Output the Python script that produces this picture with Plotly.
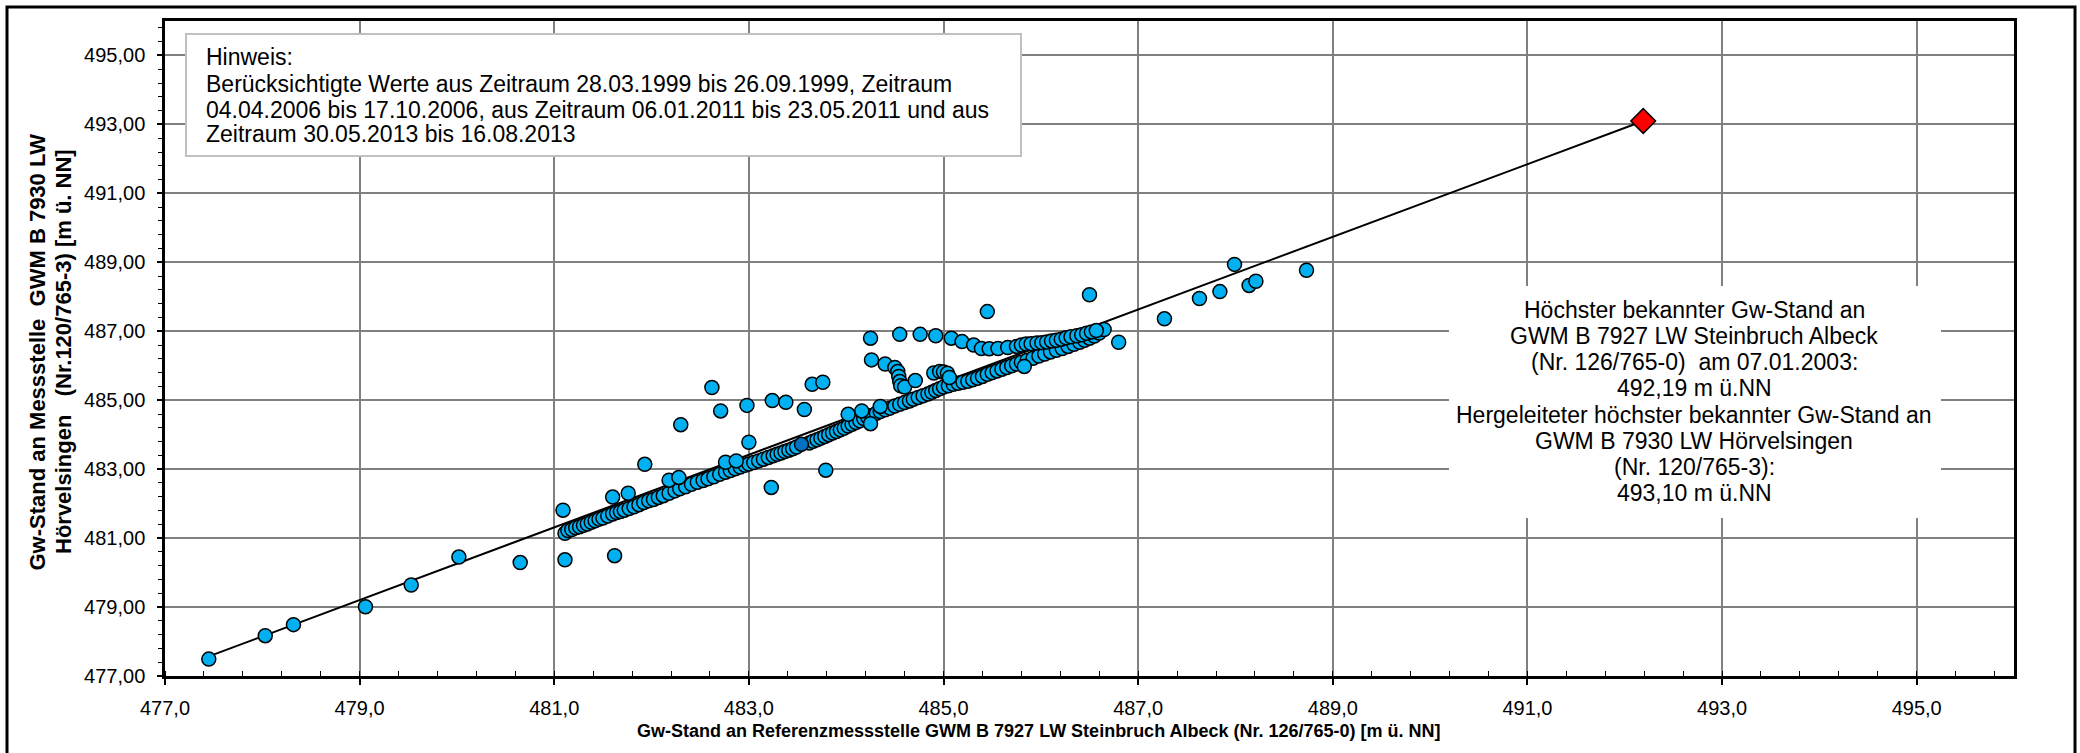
import plotly.graph_objects as go

# ---------------- data ----------------
# main dense band of measurements
band_x = [481.11, 481.14, 481.18, 481.22, 481.26, 481.30, 481.34, 481.38, 481.42, 481.46,
          481.50, 481.55, 481.60, 481.64, 481.68, 481.72, 481.77, 481.82, 481.87, 481.92,
          481.97, 482.02, 482.07, 482.12, 482.18, 482.24, 482.29, 482.35, 482.41, 482.47,
          482.53, 482.58, 482.64, 482.70, 482.76, 482.81, 482.86, 482.91, 482.96, 483.00,
          483.05, 483.10, 483.15, 483.20, 483.25, 483.29, 483.33, 483.37, 483.41, 483.45,
          483.49, 483.62, 483.66, 483.70, 483.74, 483.78, 483.82, 483.86, 483.90, 483.94,
          483.98, 484.02, 484.06, 484.10, 484.14, 484.18, 484.22, 484.26, 484.31, 484.35,
          484.40, 484.45, 484.50, 484.55, 484.60, 484.65, 484.69, 484.74, 484.79, 484.84,
          484.88, 484.92, 484.96, 485.00, 485.05, 485.10, 485.15, 485.20, 485.25, 485.30,
          485.35, 485.40, 485.45, 485.50, 485.55, 485.60, 485.65, 485.70, 485.75, 485.80,
          485.86, 485.92, 485.98, 486.04, 486.10, 486.16, 486.22, 486.28, 486.34, 486.40,
          486.45, 486.50, 486.55, 486.60, 486.65]
band_y = [481.14, 481.22, 481.25, 481.30, 481.33, 481.37, 481.41, 481.46, 481.50, 481.55,
          481.58, 481.64, 481.70, 481.74, 481.77, 481.81, 481.86, 481.91, 481.97, 482.03,
          482.08, 482.12, 482.18, 482.23, 482.30, 482.37, 482.43, 482.49, 482.56, 482.62,
          482.67, 482.72, 482.78, 482.85, 482.91, 482.96, 483.01, 483.06, 483.11, 483.15,
          483.19, 483.24, 483.29, 483.34, 483.39, 483.43, 483.47, 483.51, 483.55, 483.59,
          483.64, 483.76, 483.81, 483.85, 483.90, 483.95, 484.00, 484.05, 484.09, 484.14,
          484.19, 484.25, 484.30, 484.35, 484.40, 484.47, 484.51, 484.56, 484.62, 484.67,
          484.72, 484.77, 484.83, 484.88, 484.93, 484.98, 485.03, 485.08, 485.13, 485.18,
          485.23, 485.28, 485.33, 485.38, 485.42, 485.46, 485.49, 485.52, 485.55, 485.59,
          485.64, 485.69, 485.75, 485.80, 485.85, 485.90, 485.95, 486.00, 486.05, 486.10,
          486.16, 486.22, 486.28, 486.34, 486.40, 486.45, 486.50, 486.56, 486.62, 486.68,
          486.74, 486.80, 486.86, 486.95, 487.05]

# upper arc of measurements
arc_x = [484.55, 484.76, 484.92, 485.08, 485.19, 485.31, 485.39, 485.47, 485.56, 485.66,
         485.75, 485.80, 485.85, 485.90, 485.96, 486.01, 486.06, 486.11, 486.16, 486.21,
         486.26, 486.31, 486.37, 486.42, 486.47, 486.52, 486.57]
arc_y = [486.91, 486.91, 486.87, 486.80, 486.70, 486.60, 486.50, 486.49, 486.50, 486.53,
         486.56, 486.60, 486.63, 486.64, 486.66, 486.67, 486.69, 486.72, 486.74, 486.77,
         486.81, 486.84, 486.87, 486.90, 486.94, 486.98, 487.02]

# curl and cluster near 484.5 / 485.0
curl_x = [484.25, 484.26, 484.40, 484.50, 484.53, 484.54, 484.55, 484.56, 484.60, 484.71,
          484.90, 484.96, 485.00, 485.04, 485.06]
curl_y = [486.80, 486.17, 486.05, 485.95, 485.83, 485.69, 485.54, 485.42, 485.38, 485.57,
          485.79, 485.83, 485.82, 485.78, 485.66]

# isolated measurements
iso_x = [477.45, 478.03, 478.32, 479.06, 479.53, 480.02, 480.65, 481.11, 481.62, 481.09,
         481.60, 481.76, 481.93, 482.18, 482.28, 482.30, 482.62, 482.71, 482.76, 482.87,
         482.98, 483.00, 483.23, 483.24, 483.38, 483.57, 483.65, 483.76, 483.79, 484.02,
         484.16, 484.25, 484.35, 485.45, 485.83, 486.50, 486.80, 487.27, 487.63, 487.84,
         487.99, 488.14, 488.21, 488.73]
iso_y = [477.49, 478.17, 478.49, 479.01, 479.64, 480.45, 480.29, 480.37, 480.49, 481.81,
         482.19, 482.30, 483.14, 482.68, 482.76, 484.29, 485.37, 484.69, 483.20, 483.24,
         484.85, 483.78, 482.47, 484.99, 484.94, 484.73, 485.46, 485.52, 482.97, 484.59,
         484.69, 484.32, 484.82, 487.57, 485.98, 488.06, 486.68, 487.36, 487.95, 488.15,
         488.94, 488.33, 488.45, 488.77]

# highlighted (darker) measurement
dark_x = [483.54]
dark_y = [483.72]

# regression line end points and highest known level
line_x = [477.45, 492.19]
line_y = [477.57, 493.10]
max_x = [492.19]
max_y = [493.10]

x_ticks = [477, 479, 481, 483, 485, 487, 489, 491, 493, 495]
y_ticks = [477, 479, 481, 483, 485, 487, 489, 491, 493, 495]

hinweis_lines = [
    "Hinweis:",
    "Berücksichtigte Werte aus Zeitraum 28.03.1999 bis 26.09.1999, Zeitraum",
    "04.04.2006 bis 17.10.2006, aus Zeitraum 06.01.2011 bis 23.05.2011 und aus",
    "Zeitraum 30.05.2013 bis 16.08.2013",
]
info_lines = [
    "Höchster bekannter Gw-Stand an",
    "GWM B 7927 LW Steinbruch Albeck",
    "(Nr. 126/765-0)  am 07.01.2003:",
    "492,19 m ü.NN",
    "Hergeleiteter höchster bekannter Gw-Stand an",
    "GWM B 7930 LW Hörvelsingen",
    "(Nr. 120/765-3):",
    "493,10 m ü.NN",
]
x_title = "Gw-Stand an Referenzmessstelle GWM B 7927 LW Steinbruch Albeck (Nr. 126/765-0) [m ü. NN]"
y_title_lines = ["Gw-Stand an Messstelle  GWM B 7930 LW",
                 "Hörvelsingen   (Nr.120/765-3) [m ü. NN]"]

# ---------------- layout geometry ----------------
W, H = 2080, 753
L, R, T, B = 165, 66, 21, 77
PW, PH = W - L - R, H - T - B
FONT = "Liberation Sans, Arial, sans-serif"


def px(x):
    return (x - L) / PW


def py(y):
    return (H - B - y) / PH


all_x = band_x + arc_x + curl_x + iso_x
all_y = band_y + arc_y + curl_y + iso_y

fig = go.Figure()
fig.add_trace(go.Scatter(x=line_x, y=line_y, mode="lines",
                         line=dict(color="black", width=2), hoverinfo="skip"))
fig.add_trace(go.Scatter(x=all_x, y=all_y, mode="markers",
                         marker=dict(size=14, color="#00b0f0",
                                     line=dict(color="black", width=1.5))))
fig.add_trace(go.Scatter(x=dark_x, y=dark_y, mode="markers",
                         marker=dict(size=14, color="#0070c0",
                                     line=dict(color="black", width=1.5))))
fig.add_trace(go.Scatter(x=max_x, y=max_y, mode="markers",
                         marker=dict(size=19, symbol="diamond", color="#ff0000",
                                     line=dict(color="black", width=1.5))))

axis_common = dict(
    showgrid=True, gridcolor="#808080", gridwidth=1.5,
    zeroline=False, showline=True, linecolor="black", linewidth=2.5, mirror=True,
    tickfont=dict(family=FONT, size=20, color="black"),
    tickcolor="black",
)
fig.update_xaxes(range=[477, 496], tickmode="array", tickvals=x_ticks, tickformat=".1f",
                 ticks="outside", ticklen=6, tickwidth=1.5,
                 minor=dict(dtick=0.4, tick0=477, ticks="inside", ticklen=5,
                            tickcolor="black", tickwidth=1.2, showgrid=False),
                 ticklabelstandoff=6, **axis_common)
fig.update_yaxes(range=[477, 496], tickmode="array", tickvals=y_ticks, tickformat=".2f",
                 ticks="outside", ticklen=5, tickwidth=1.5,
                 minor=dict(dtick=0.4, tick0=477, ticks="outside", ticklen=4,
                            tickcolor="black", tickwidth=1.2, showgrid=False),
                 ticklabelstandoff=8, **axis_common)

shapes = [
    # outer frame
    dict(type="rect", xref="paper", yref="paper", x0=px(7), x1=px(2075), y0=py(780), y1=py(7),
         line=dict(color="black", width=3), fillcolor="rgba(0,0,0,0)", layer="above"),
    # hint box
    dict(type="rect", xref="paper", yref="paper", x0=px(186), x1=px(1021), y0=py(156), y1=py(34),
         line=dict(color="#c0c0c0", width=2), fillcolor="white", layer="above"),
    # info box (white background, no border)
    dict(type="rect", xref="paper", yref="paper", x0=px(1449), x1=px(1941), y0=py(518), y1=py(286),
         line=dict(width=0), fillcolor="white", layer="above"),
]

annotations = []
for i, t in enumerate(hinweis_lines):
    yc = [57, 84.5, 109.5, 134.5][i]
    annotations.append(dict(text=t, xref="paper", yref="paper", x=px(204), y=py(yc),
                            xanchor="left", yanchor="middle", showarrow=False,
                            font=dict(family=FONT, size=23, color="black")))
for i, t in enumerate(info_lines):
    annotations.append(dict(text=t, xref="paper", yref="paper", x=px(1694), y=py(310 + 26.14 * i),
                            xanchor="center", yanchor="middle", showarrow=False,
                            font=dict(family=FONT, size=23, color="black")))
annotations.append(dict(text="<b>" + x_title + "</b>", xref="paper", yref="paper",
                        x=px(1039), y=py(731), xanchor="center", yanchor="middle", showarrow=False,
                        font=dict(family=FONT, size=18, color="black")))
for i, t in enumerate(y_title_lines):
    annotations.append(dict(text="<b>" + t + "</b>", xref="paper", yref="paper",
                            x=px([36.5, 63][i]), y=py(352), xanchor="center", yanchor="middle",
                            showarrow=False, textangle=-90,
                            font=dict(family=FONT, size=22, color="black")))

fig.update_layout(
    width=W, height=H,
    margin=dict(l=L, r=R, t=T, b=B, pad=0),
    paper_bgcolor="white", plot_bgcolor="white",
    showlegend=False,
    separators=",.",
    shapes=shapes, annotations=annotations,
    font=dict(family=FONT, color="black"),
)

fig.write_html("out.html",
               config={"displayModeBar": False},
               post_script="document.body.style.margin='0px';"
                           "document.body.style.overflow='hidden';")
